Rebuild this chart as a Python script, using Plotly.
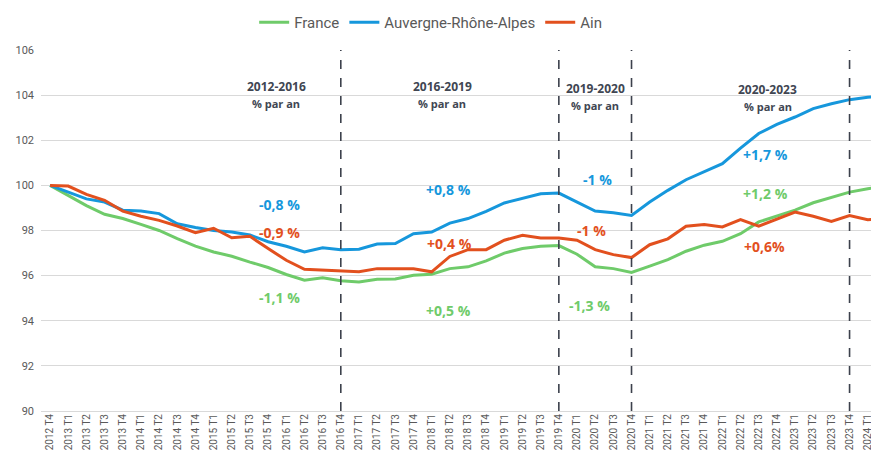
import plotly.graph_objects as go

quarters = ["2012 T4"] + [f"{y} T{q}" for y in range(2013, 2024) for q in range(1, 5)] + ["2024 T1", "2024 T2"]

france = [100.0, 99.56, 99.1, 98.72, 98.53, 98.27, 98.0, 97.64, 97.31, 97.05, 96.86, 96.6, 96.36, 96.05, 95.8,
          95.9, 95.77, 95.72, 95.84, 95.85, 96.02, 96.06, 96.31, 96.39, 96.65, 97.0, 97.2, 97.3, 97.33, 96.95,
          96.39, 96.31, 96.14, 96.42, 96.71, 97.08, 97.35, 97.52, 97.86, 98.38, 98.63, 98.9, 99.23, 99.48,
          99.7, 99.85, 99.97]
ara = [100.0, 99.7, 99.4, 99.26, 98.9, 98.86, 98.75, 98.3, 98.13, 98.0, 97.93, 97.8, 97.5, 97.3, 97.05,
       97.23, 97.15, 97.17, 97.4, 97.42, 97.86, 97.93, 98.33, 98.53, 98.85, 99.22, 99.41, 99.63, 99.66, 99.26,
       98.86, 98.79, 98.67, 99.26, 99.78, 100.25, 100.59, 100.96, 101.65, 102.3, 102.7, 103.03, 103.4, 103.62,
       103.8, 103.91, 103.94]
ain = [100.0, 99.97, 99.6, 99.34, 98.86, 98.63, 98.45, 98.2, 97.9, 98.1, 97.68, 97.74, 97.2, 96.68, 96.28,
       96.24, 96.21, 96.17, 96.31, 96.3, 96.3, 96.17, 96.85, 97.15, 97.15, 97.57, 97.79, 97.67, 97.67, 97.57,
       97.15, 96.93, 96.8, 97.37, 97.63, 98.19, 98.27, 98.16, 98.48, 98.19, 98.5, 98.82, 98.63, 98.4,
       98.66, 98.48, 98.53]

series_names = ["France", "Auvergne-Rhône-Alpes", "Ain"]
colors = ["#6fcb6a", "#1697dc", "#e2501e"]

period_breaks = ["2016 T4", "2019 T4", "2020 T4", "2023 T4"]
period_titles = ["2012-2016", "2016-2019", "2019-2020", "2020-2023"]
period_title_pos = [(12.44, 104.38), (21.57, 104.38), (30.0, 104.3), (39.5, 104.25)]

rate_labels = [
    ("-0,8 %", 12.6, 99.16, 1), ("-0,9 %", 12.6, 97.92, 2), ("-1,1 %", 12.6, 95.05, 0),
    ("+0,8 %", 21.9, 99.83, 1), ("+0,4 %", 22.0, 97.44, 2), ("+0,5 %", 21.9, 94.47, 0),
    ("-1 %", 30.1, 100.27, 1), ("-1 %", 29.8, 98.01, 2), ("-1,3 %", 29.66, 94.69, 0),
    ("+1,7 %", 39.4, 101.38, 1), ("+1,2 %", 39.4, 99.65, 0), ("+0,6%", 39.3, 97.3, 2),
]

idx = list(range(len(quarters)))
fig = go.Figure()
for name, vals, col in zip(series_names, [france, ara, ain], colors):
    fig.add_trace(go.Scatter(x=idx, y=vals, mode="lines", name=name,
                             line=dict(color=col, width=3), hoverinfo="skip"))

shapes = []
for q in period_breaks:
    i = quarters.index(q)
    shapes.append(dict(type="line", xref="x", yref="paper", x0=i, x1=i, y0=0, y1=1,
                       line=dict(color="#3c414c", width=1.6, dash="dash"), layer="above"))

annotations = []
for t, (px, py) in zip(period_titles, period_title_pos):
    annotations.append(dict(x=px, y=py, xref="x", yref="y", text=f"<b>{t}</b>", showarrow=False,
                            font=dict(family="Open Sans", size=12, color="#404652")))
    annotations.append(dict(x=px, y=py - 0.75, xref="x", yref="y", text="<b>% par an</b>", showarrow=False,
                            font=dict(family="Open Sans", size=11, color="#404652")))
for t, px, py, ci in rate_labels:
    annotations.append(dict(x=px, y=py, xref="x", yref="y", text=f"<b>{t}</b>", showarrow=False,
                            font=dict(family="Open Sans", size=14, color=colors[ci])))

# page body has an 8px margin: figure is drawn 8px right/down of the window origin
fig.update_layout(
    width=871, height=450,
    margin=dict(l=33, r=0, t=41.5, b=47, autoexpand=False),
    paper_bgcolor="white", plot_bgcolor="white",
    font=dict(family="Roboto", color="#595959"),
    showlegend=True,
    legend=dict(orientation="h", x=0.465, y=1.076, xanchor="center", yanchor="middle",
                font=dict(size=15, color="#595959", family="Roboto"),
                itemwidth=30, tracegroupgap=0, bgcolor="rgba(0,0,0,0)"),
    shapes=shapes, annotations=annotations,
)
fig.update_xaxes(range=[-0.5, 45.62], tickmode="array", tickvals=idx, ticktext=quarters,
                 tickangle=-90, tickfont=dict(size=10, color="#595959"), showgrid=False,
                 showline=True, linecolor="#d9d9d9", linewidth=1, ticks="", automargin=False,
                 zeroline=False, ticklabelstandoff=-2)
fig.update_yaxes(range=[90, 106], dtick=2, tick0=90, showgrid=True, gridcolor="#d9d9d9", gridwidth=1,
                 tickfont=dict(size=11, color="#595959"), zeroline=False, showline=False,
                 automargin=False, ticklen=0, ticks="", ticklabelstandoff=6)

fig.write_html("out.html")
